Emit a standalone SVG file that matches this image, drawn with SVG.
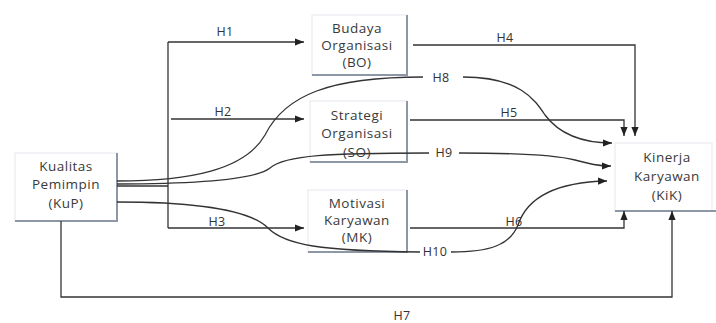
<svg xmlns="http://www.w3.org/2000/svg" width="716" height="323" viewBox="0 0 716 323">
<defs>
<marker id="ah" viewBox="0 0 10 10" refX="10" refY="5" markerWidth="9" markerHeight="9" markerUnits="userSpaceOnUse" orient="auto"><path d="M0,1 L10,5 L0,9 z" fill="#222"/></marker>
<style>
.box{fill:#fff;stroke:#e3e7ee;stroke-width:1}
.sh{fill:none;stroke:#8d97a6;stroke-width:2}
.nt{font-family:"Open Sans","DejaVu Sans",sans-serif;font-size:13.5px;fill:#3a3a3a;text-anchor:middle;letter-spacing:0.5px}
.lb{font-family:"Open Sans","DejaVu Sans",sans-serif;font-size:12.5px;fill:#333;text-anchor:middle;letter-spacing:0.3px}
.ln{fill:none;stroke:#333;stroke-width:1.3}
</style>
</defs>
<rect width="716" height="323" fill="#fff"/>
<g id="KuP">
<rect class="box" x="15" y="153" width="102" height="68"/>
<path class="sh" d="M117,153 V221 H15"/>
<text class="nt" x="66" y="171">Kualitas</text>
<text class="nt" x="66" y="189">Pemimpin</text>
<text class="nt" x="66" y="208">(KuP)</text>
</g>
<g id="BO">
<rect class="box" x="312" y="15" width="95" height="60"/>
<path class="sh" d="M407,15 V75 H312"/>
<text class="nt" x="357" y="33">Budaya</text>
<text class="nt" x="357" y="50">Organisasi</text>
<text class="nt" x="357" y="67">(BO)</text>
</g>
<g id="SO">
<rect class="box" x="310" y="101" width="97" height="61"/>
<path class="sh" d="M407,101 V162 H310"/>
<text class="nt" x="357" y="120">Strategi</text>
<text class="nt" x="357" y="138">Organisasi</text>
<text class="nt" x="357" y="157">(SO)</text>
</g>
<g id="MK">
<rect class="box" x="308" y="190" width="99" height="62"/>
<path class="sh" d="M407,190 V252 H308"/>
<text class="nt" x="357" y="208">Motivasi</text>
<text class="nt" x="357" y="225">Karyawan</text>
<text class="nt" x="357" y="242">(MK)</text>
</g>
<g id="KiK">
<rect class="box" x="615" y="143" width="97" height="68"/>
<path class="sh" d="M716,211 H615"/>
<text class="nt" x="667" y="162">Kinerja</text>
<text class="nt" x="667" y="181">Karyawan</text>
<text class="nt" x="667" y="200">(KiK)</text>
</g>
<g id="connectors">
<path class="ln" d="M168,42 V228"/>
<path class="ln" d="M117,186 H168"/>
<path class="ln" d="M168,42 H304" marker-end="url(#ah)"/>
<path class="ln" d="M171,119 H304" marker-end="url(#ah)"/>
<path class="ln" d="M168,228 H304" marker-end="url(#ah)"/>
<path class="ln" d="M413,45 H635 V136" marker-end="url(#ah)"/>
<path class="ln" d="M410,120 H624 V136" marker-end="url(#ah)"/>
<path class="ln" d="M410,228 H624 V211" marker-end="url(#ah)"/>
<path class="ln" d="M61,221 V297 H672 V211" marker-end="url(#ah)"/>
<path class="ln" d="M117,181 C190,181 245,170 265,135 C285,95 330,77 423,77"/>
<path class="ln" d="M463,77 C520,77 535,100 545,115 C560,135 585,143 612,143" marker-end="url(#ah)"/>
<path class="ln" d="M117,184 C200,184 255,180 270,168 C285,155 330,153 429,153"/>
<path class="ln" d="M459,153 C520,153 555,155 575,160 C590,164 598,166 611,166" marker-end="url(#ah)"/>
<path class="ln" d="M117,202 C200,202 250,210 268,228 C285,245 320,251 420,252"/>
<path class="ln" d="M451,252 C490,252 510,245 518,225 C528,195 560,182 607,181" marker-end="url(#ah)"/>
<text class="lb" x="225" y="36">H1</text>
<text class="lb" x="223" y="116">H2</text>
<text class="lb" x="217" y="226">H3</text>
<text class="lb" x="505" y="42">H4</text>
<text class="lb" x="509" y="117">H5</text>
<text class="lb" x="514" y="226">H6</text>
<text class="lb" x="402" y="320">H7</text>
<text class="lb" x="441" y="82">H8</text>
<text class="lb" x="444" y="157">H9</text>
<text class="lb" x="435" y="256">H10</text>
</g>
</svg>
